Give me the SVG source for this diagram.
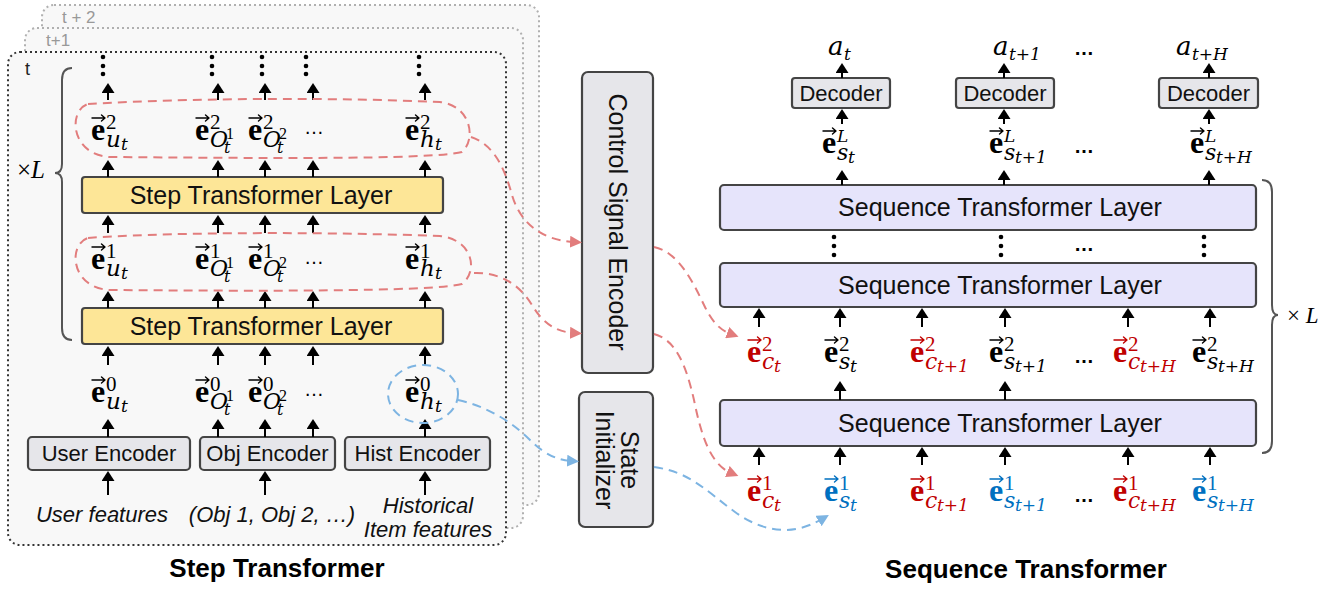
<svg xmlns="http://www.w3.org/2000/svg" width="1337" height="590" viewBox="0 0 1337 590">
<style>
.sans{font-family:"Liberation Sans",Arial,sans-serif}
.lt{font-family:"Liberation Sans",Arial,sans-serif;font-size:25px;text-anchor:middle;fill:#111}
.enc{font-family:"Liberation Sans",Arial,sans-serif;font-size:22px;text-anchor:middle;fill:#111}
.inp{font-family:"Liberation Sans",Arial,sans-serif;font-size:22px;font-style:italic;text-anchor:middle;fill:#111}
.ttl{font-family:"Liberation Sans",Arial,sans-serif;font-size:26px;font-weight:700;text-anchor:middle;fill:#000}
.eb{font-family:"Liberation Serif",serif;font-weight:700;font-size:32px}
.sp{font-family:"Liberation Serif",serif;font-size:21px;font-weight:400}
.sp2{font-family:"Liberation Serif",serif;font-size:16px;font-weight:400}
.spi{font-family:"DejaVu Serif",serif;font-style:italic;font-size:17px;font-weight:400}
.sb{font-family:"DejaVu Serif",serif;font-style:italic;font-size:22px;font-weight:400}
.sbl{font-family:"DejaVu Serif",serif;font-style:italic;font-size:23px;font-weight:400}
.sbo{font-family:"DejaVu Serif",serif;font-style:italic;font-size:22px;font-weight:400}
.ss{font-family:"DejaVu Serif",serif;font-style:italic;font-size:17px;font-weight:400}
.ss2{font-family:"DejaVu Serif",serif;font-style:italic;font-size:16px;font-weight:400}
.av{font-family:"DejaVu Serif",serif;font-style:italic;font-size:26px}
.el{font-family:"Liberation Sans",Arial,sans-serif;font-size:20px;text-anchor:middle}
.elb{font-family:"Liberation Sans",Arial,sans-serif;font-size:20px;font-weight:700;text-anchor:middle}
.frame{stroke-dasharray:2 3;stroke-width:2;fill:#f8f8f8}
.box{stroke:#444;stroke-width:2.2}
.step{fill:#fde697}
.seq{fill:#e6e4fb}
.gray{fill:#e6e6ea}
.ar{stroke:#000;stroke-width:2;marker-end:url(#ah)}
.rd{fill:none;stroke:#e27d7d;stroke-width:2;stroke-dasharray:9 6}
.bd{fill:none;stroke:#7db4e2;stroke-width:2;stroke-dasharray:9 6}
.br{fill:none;stroke:#555;stroke-width:2}
.vecp{fill:none;stroke:currentColor;stroke-width:1.4;stroke-linecap:round;stroke-linejoin:round}
.red{fill:#c00000;color:#c00000}
.blue{fill:#0070c0;color:#0070c0}
.blk{fill:#000;color:#000}
</style>
<defs>
<marker id="ah" viewBox="0 0 10 13" refX="4" refY="6.5" markerWidth="10" markerHeight="13" markerUnits="userSpaceOnUse" orient="auto"><path d="M0,0 L10,6.5 L0,13 Z" fill="#000"/></marker>
<marker id="ahr" viewBox="0 0 12 12" refX="4" refY="6" markerWidth="12" markerHeight="12" markerUnits="userSpaceOnUse" orient="auto"><path d="M0,0 L12,6 L0,12 Z" fill="#e27d7d"/></marker>
<marker id="ahb" viewBox="0 0 12 12" refX="4" refY="6" markerWidth="12" markerHeight="12" markerUnits="userSpaceOnUse" orient="auto"><path d="M0,0 L12,6 L0,12 Z" fill="#7db4e2"/></marker>
<path id="vec" class="vecp" d="M1,-22 H14 M10.5,-25 L14,-22 L10.5,-19"/>
</defs>
<rect width="1337" height="590" fill="#fff"/>

<g id="frames">
<rect class="frame" x="42" y="5" width="497" height="500" rx="12" stroke="#b0b0b0"/>
<text class="sans" x="62" y="23" font-size="17" fill="#999">t + 2</text>
<rect class="frame" x="25" y="28" width="498" height="500" rx="12" stroke="#b0b0b0"/>
<text class="sans" x="46" y="46" font-size="17" fill="#999">t+1</text>
<rect class="frame" x="8" y="52" width="498" height="493" rx="12" stroke="#333"/>
<text class="sans" x="25" y="75" font-size="18" fill="#222">t</text>
</g>

<g id="left-brace">
<path class="br" d="M72,68 Q62,68 62,80 L62,164 Q62,173 55,173 Q62,173 62,182 L62,328 Q62,340 72,340"/>
<text x="17" y="178" font-family="Liberation Serif,serif" font-size="25">×<tspan font-style="italic">L</tspan></text>
</g>

<g id="step-layer-2">
<rect class="box step" x="82" y="177" width="361" height="36" rx="3"/>
<text class="lt" x="261" y="204">Step Transformer Layer</text>
</g>
<g id="step-layer-1">
<rect class="box step" x="82" y="308" width="361" height="36" rx="3"/>
<text class="lt" x="261" y="335">Step Transformer Layer</text>
</g>

<g id="user-encoder">
<rect class="box gray" x="28" y="437" width="162" height="33" rx="4"/>
<text class="enc" x="109" y="461">User Encoder</text>
</g>
<g id="obj-encoder">
<rect class="box gray" x="200" y="437" width="135" height="33" rx="4"/>
<text class="enc" x="267.5" y="461">Obj Encoder</text>
</g>
<g id="hist-encoder">
<rect class="box gray" x="345" y="437" width="145" height="33" rx="4"/>
<text class="enc" x="417.5" y="461">Hist Encoder</text>
</g>

<g id="inputs">
<text class="inp" x="102" y="522">User features</text>
<text class="inp" x="272" y="522">(Obj 1, Obj 2, …)</text>
<text class="inp" x="428" y="513">Historical</text>
<text class="inp" x="428" y="537">Item features</text>
</g>

<!-- left embeddings row 2 -->
<g id="e2-u" class="blk" transform="translate(91,140)"><use href="#vec"/><text class="eb"><tspan x="0" y="0">e</tspan><tspan class="sp" x="15" y="-11">2</tspan><tspan class="sbl" x="15" y="7">u</tspan><tspan class="ss" x="30" y="10">t</tspan></text></g>
<g id="e2-o1" class="blk" transform="translate(195,140)"><use href="#vec"/><text class="eb"><tspan x="0" y="0">e</tspan><tspan class="sp" x="15" y="-11">2</tspan><tspan class="sbo" x="15" y="7">O</tspan><tspan class="sp2" x="31" y="-1">1</tspan><tspan class="ss2" x="29" y="13">t</tspan></text></g>
<g id="e2-o2" class="blk" transform="translate(248,140)"><use href="#vec"/><text class="eb"><tspan x="0" y="0">e</tspan><tspan class="sp" x="15" y="-11">2</tspan><tspan class="sbo" x="15" y="7">O</tspan><tspan class="sp2" x="31" y="-1">2</tspan><tspan class="ss2" x="29" y="13">t</tspan></text></g>
<text class="el" x="314" y="134">…</text>
<g id="e2-h" class="blk" transform="translate(405,140)"><use href="#vec"/><text class="eb"><tspan x="0" y="0">e</tspan><tspan class="sp" x="15" y="-11">2</tspan><tspan class="sbl" x="15" y="7">h</tspan><tspan class="ss" x="30" y="10">t</tspan></text></g>

<!-- left embeddings row 1 -->
<g id="e1-u" class="blk" transform="translate(91,269)"><use href="#vec"/><text class="eb"><tspan x="0" y="0">e</tspan><tspan class="sp" x="15" y="-11">1</tspan><tspan class="sbl" x="15" y="7">u</tspan><tspan class="ss" x="30" y="10">t</tspan></text></g>
<g id="e1-o1" class="blk" transform="translate(195,269)"><use href="#vec"/><text class="eb"><tspan x="0" y="0">e</tspan><tspan class="sp" x="15" y="-11">1</tspan><tspan class="sbo" x="15" y="7">O</tspan><tspan class="sp2" x="31" y="-1">1</tspan><tspan class="ss2" x="29" y="13">t</tspan></text></g>
<g id="e1-o2" class="blk" transform="translate(248,269)"><use href="#vec"/><text class="eb"><tspan x="0" y="0">e</tspan><tspan class="sp" x="15" y="-11">1</tspan><tspan class="sbo" x="15" y="7">O</tspan><tspan class="sp2" x="31" y="-1">2</tspan><tspan class="ss2" x="29" y="13">t</tspan></text></g>
<text class="el" x="314" y="264">…</text>
<g id="e1-h" class="blk" transform="translate(405,269)"><use href="#vec"/><text class="eb"><tspan x="0" y="0">e</tspan><tspan class="sp" x="15" y="-11">1</tspan><tspan class="sbl" x="15" y="7">h</tspan><tspan class="ss" x="30" y="10">t</tspan></text></g>

<!-- left embeddings row 0 -->
<g id="e0-u" class="blk" transform="translate(91,402)"><use href="#vec"/><text class="eb"><tspan x="0" y="0">e</tspan><tspan class="sp" x="15" y="-11">0</tspan><tspan class="sbl" x="15" y="7">u</tspan><tspan class="ss" x="30" y="10">t</tspan></text></g>
<g id="e0-o1" class="blk" transform="translate(195,402)"><use href="#vec"/><text class="eb"><tspan x="0" y="0">e</tspan><tspan class="sp" x="15" y="-11">0</tspan><tspan class="sbo" x="15" y="7">O</tspan><tspan class="sp2" x="31" y="-1">1</tspan><tspan class="ss2" x="29" y="13">t</tspan></text></g>
<g id="e0-o2" class="blk" transform="translate(248,402)"><use href="#vec"/><text class="eb"><tspan x="0" y="0">e</tspan><tspan class="sp" x="15" y="-11">0</tspan><tspan class="sbo" x="15" y="7">O</tspan><tspan class="sp2" x="31" y="-1">2</tspan><tspan class="ss2" x="29" y="13">t</tspan></text></g>
<text class="el" x="314" y="396">…</text>
<g id="e0-h" class="blk" transform="translate(405,402)"><use href="#vec"/><text class="eb"><tspan x="0" y="0">e</tspan><tspan class="sp" x="15" y="-11">0</tspan><tspan class="sbl" x="15" y="7">h</tspan><tspan class="ss" x="30" y="10">t</tspan></text></g>

<g id="control-signal-encoder">
<rect class="box gray" x="582" y="72" width="71" height="301" rx="6"/>
<text class="lt" transform="translate(609,222) rotate(90)">Control Signal Encoder</text>
</g>
<g id="state-initializer">
<rect class="box gray" x="579" y="392" width="74" height="135" rx="6"/>
<text class="lt" transform="rotate(90,610,460)"><tspan x="610" y="449">State</tspan><tspan x="610" y="474">Initializer</tspan></text>
</g>

<g id="seq-layer-top">
<rect class="box seq" x="720" y="185" width="536" height="45" rx="4"/>
<text class="lt" x="1000" y="216">Sequence Transformer Layer</text>
</g>
<g id="seq-layer-mid">
<rect class="box seq" x="720" y="263" width="536" height="44" rx="4"/>
<text class="lt" x="1000" y="294">Sequence Transformer Layer</text>
</g>
<g id="seq-layer-bot">
<rect class="box seq" x="720" y="400" width="536" height="46" rx="4"/>
<text class="lt" x="1000" y="432">Sequence Transformer Layer</text>
</g>

<g id="decoder-1"><rect class="box gray" x="792" y="78" width="98" height="30" rx="3"/><text class="enc" x="841" y="101" font-size="21.5">Decoder</text></g>
<g id="decoder-2"><rect class="box gray" x="956" y="78" width="98" height="30" rx="3"/><text class="enc" x="1005" y="101" font-size="21.5">Decoder</text></g>
<g id="decoder-3"><rect class="box gray" x="1159" y="78" width="99" height="30" rx="3"/><text class="enc" x="1208.5" y="101" font-size="21.5">Decoder</text></g>

<g id="a-t"><text class="av" transform="translate(828,55)">a<tspan class="ss" x="16" y="5" font-size="18">t</tspan></text></g>
<g id="a-t1"><text class="av" transform="translate(993,55)">a<tspan class="ss" x="16" y="5" font-size="18">t+1</tspan></text></g>
<text class="elb" x="1084" y="55">…</text>
<g id="a-tH"><text class="av" transform="translate(1176,55)">a<tspan class="ss" x="16" y="5" font-size="18">t+H</tspan></text></g>

<!-- eL row -->
<g id="eL-s-t" class="blk" transform="translate(822,153)"><use href="#vec"/><text class="eb"><tspan x="0" y="0">e</tspan><tspan class="spi" x="15" y="-11">L</tspan><tspan class="sb" x="15" y="7">s</tspan><tspan class="ss" x="26" y="10">t</tspan></text></g>
<g id="eL-s-t1" class="blk" transform="translate(989,153)"><use href="#vec"/><text class="eb"><tspan x="0" y="0">e</tspan><tspan class="spi" x="15" y="-11">L</tspan><tspan class="sb" x="15" y="7">s</tspan><tspan class="ss" x="26" y="10">t+1</tspan></text></g>
<text class="elb" x="1084" y="153">…</text>
<g id="eL-s-tH" class="blk" transform="translate(1190,153)"><use href="#vec"/><text class="eb"><tspan x="0" y="0">e</tspan><tspan class="spi" x="15" y="-11">L</tspan><tspan class="sb" x="15" y="7">s</tspan><tspan class="ss" x="26" y="10">t+H</tspan></text></g>

<!-- e2 row right -->
<g id="e2-c-t" class="red" transform="translate(747,362)"><use href="#vec"/><text class="eb"><tspan x="0" y="0">e</tspan><tspan class="sp" x="15" y="-11">2</tspan><tspan class="sb" x="15" y="7">c</tspan><tspan class="ss" x="27" y="10">t</tspan></text></g>
<g id="e2-s-t" class="blk" transform="translate(824,362)"><use href="#vec"/><text class="eb"><tspan x="0" y="0">e</tspan><tspan class="sp" x="15" y="-11">2</tspan><tspan class="sb" x="15" y="7">s</tspan><tspan class="ss" x="26" y="10">t</tspan></text></g>
<g id="e2-c-t1" class="red" transform="translate(910,362)"><use href="#vec"/><text class="eb"><tspan x="0" y="0">e</tspan><tspan class="sp" x="15" y="-11">2</tspan><tspan class="sb" x="15" y="7">c</tspan><tspan class="ss" x="27" y="10">t+1</tspan></text></g>
<g id="e2-s-t1" class="blk" transform="translate(989,362)"><use href="#vec"/><text class="eb"><tspan x="0" y="0">e</tspan><tspan class="sp" x="15" y="-11">2</tspan><tspan class="sb" x="15" y="7">s</tspan><tspan class="ss" x="26" y="10">t+1</tspan></text></g>
<text class="elb" x="1084" y="363">…</text>
<g id="e2-c-tH" class="red" transform="translate(1113,362)"><use href="#vec"/><text class="eb"><tspan x="0" y="0">e</tspan><tspan class="sp" x="15" y="-11">2</tspan><tspan class="sb" x="15" y="7">c</tspan><tspan class="ss" x="27" y="10">t+H</tspan></text></g>
<g id="e2-s-tH" class="blk" transform="translate(1192,362)"><use href="#vec"/><text class="eb"><tspan x="0" y="0">e</tspan><tspan class="sp" x="15" y="-11">2</tspan><tspan class="sb" x="15" y="7">s</tspan><tspan class="ss" x="26" y="10">t+H</tspan></text></g>

<!-- e1 row right -->
<g id="e1-c-t" class="red" transform="translate(747,501)"><use href="#vec"/><text class="eb"><tspan x="0" y="0">e</tspan><tspan class="sp" x="15" y="-11">1</tspan><tspan class="sb" x="15" y="7">c</tspan><tspan class="ss" x="27" y="10">t</tspan></text></g>
<g id="e1-s-t" class="blue" transform="translate(824,501)"><use href="#vec"/><text class="eb"><tspan x="0" y="0">e</tspan><tspan class="sp" x="15" y="-11">1</tspan><tspan class="sb" x="15" y="7">s</tspan><tspan class="ss" x="26" y="10">t</tspan></text></g>
<g id="e1-c-t1" class="red" transform="translate(910,501)"><use href="#vec"/><text class="eb"><tspan x="0" y="0">e</tspan><tspan class="sp" x="15" y="-11">1</tspan><tspan class="sb" x="15" y="7">c</tspan><tspan class="ss" x="27" y="10">t+1</tspan></text></g>
<g id="e1-s-t1" class="blue" transform="translate(989,501)"><use href="#vec"/><text class="eb"><tspan x="0" y="0">e</tspan><tspan class="sp" x="15" y="-11">1</tspan><tspan class="sb" x="15" y="7">s</tspan><tspan class="ss" x="26" y="10">t+1</tspan></text></g>
<text class="elb" x="1084" y="502">…</text>
<g id="e1-c-tH" class="red" transform="translate(1113,501)"><use href="#vec"/><text class="eb"><tspan x="0" y="0">e</tspan><tspan class="sp" x="15" y="-11">1</tspan><tspan class="sb" x="15" y="7">c</tspan><tspan class="ss" x="27" y="10">t+H</tspan></text></g>
<g id="e1-s-tH" class="blue" transform="translate(1192,501)"><use href="#vec"/><text class="eb"><tspan x="0" y="0">e</tspan><tspan class="sp" x="15" y="-11">1</tspan><tspan class="sb" x="15" y="7">s</tspan><tspan class="ss" x="26" y="10">t+H</tspan></text></g>

<g id="right-brace">
<path class="br" d="M1262,180 Q1272,180 1272,192 L1272,305 Q1272,315 1278,315 Q1272,315 1272,325 L1272,441 Q1272,453 1262,453"/>
<text x="1287" y="323" font-family="Liberation Serif,serif" font-size="23">× <tspan font-style="italic">L</tspan></text>
</g>

<text class="ttl" x="277" y="577">Step Transformer</text>
<text class="ttl" x="1026" y="578" font-size="26.5">Sequence Transformer</text>

<g id="connectors">
<g fill="#000">
<circle cx="103" cy="57" r="2.3"/><circle cx="103" cy="66" r="2.3"/><circle cx="103" cy="74" r="2.3"/>
<circle cx="212" cy="57" r="2.3"/><circle cx="212" cy="66" r="2.3"/><circle cx="212" cy="74" r="2.3"/>
<circle cx="262" cy="57" r="2.3"/><circle cx="262" cy="66" r="2.3"/><circle cx="262" cy="74" r="2.3"/>
<circle cx="306" cy="57" r="2.3"/><circle cx="306" cy="66" r="2.3"/><circle cx="306" cy="74" r="2.3"/>
<circle cx="419" cy="57" r="2.3"/><circle cx="419" cy="66" r="2.3"/><circle cx="419" cy="74" r="2.3"/>
<circle cx="834" cy="237" r="2.3"/><circle cx="834" cy="246" r="2.3"/><circle cx="834" cy="255" r="2.3"/>
<circle cx="1001" cy="237" r="2.3"/><circle cx="1001" cy="246" r="2.3"/><circle cx="1001" cy="255" r="2.3"/>
<circle cx="1204" cy="237" r="2.3"/><circle cx="1204" cy="246" r="2.3"/><circle cx="1204" cy="255" r="2.3"/>
</g>
<text class="elb" x="1084" y="251">…</text>
<g>
<line class="ar" x1="108" y1="100" x2="108" y2="89"/><line class="ar" x1="218" y1="100" x2="218" y2="89"/><line class="ar" x1="265" y1="100" x2="265" y2="89"/><line class="ar" x1="313" y1="100" x2="313" y2="89"/><line class="ar" x1="425" y1="100" x2="425" y2="89"/>
<line class="ar" x1="108" y1="177" x2="108" y2="166"/><line class="ar" x1="218" y1="177" x2="218" y2="166"/><line class="ar" x1="265" y1="177" x2="265" y2="166"/><line class="ar" x1="313" y1="177" x2="313" y2="166"/><line class="ar" x1="425" y1="177" x2="425" y2="166"/>
<line class="ar" x1="108" y1="233" x2="108" y2="221"/><line class="ar" x1="218" y1="233" x2="218" y2="221"/><line class="ar" x1="265" y1="233" x2="265" y2="221"/><line class="ar" x1="313" y1="233" x2="313" y2="221"/><line class="ar" x1="425" y1="233" x2="425" y2="221"/>
<line class="ar" x1="108" y1="308" x2="108" y2="297"/><line class="ar" x1="218" y1="308" x2="218" y2="297"/><line class="ar" x1="265" y1="308" x2="265" y2="297"/><line class="ar" x1="313" y1="308" x2="313" y2="297"/><line class="ar" x1="425" y1="308" x2="425" y2="297"/>
<line class="ar" x1="108" y1="365" x2="108" y2="352"/><line class="ar" x1="218" y1="365" x2="218" y2="352"/><line class="ar" x1="265" y1="365" x2="265" y2="352"/><line class="ar" x1="313" y1="365" x2="313" y2="352"/><line class="ar" x1="425" y1="365" x2="425" y2="352"/>
<line class="ar" x1="108" y1="437" x2="108" y2="425"/><line class="ar" x1="218" y1="437" x2="218" y2="425"/><line class="ar" x1="265" y1="437" x2="265" y2="425"/><line class="ar" x1="313" y1="437" x2="313" y2="425"/><line class="ar" x1="425" y1="437" x2="425" y2="425"/>
<line class="ar" x1="108" y1="495" x2="108" y2="477"/><line class="ar" x1="265" y1="495" x2="265" y2="477"/><line class="ar" x1="425" y1="495" x2="425" y2="477"/>
</g>
<g>
<line class="ar" x1="842" y1="78" x2="842" y2="69"/><line class="ar" x1="1004" y1="78" x2="1004" y2="69"/><line class="ar" x1="1209" y1="78" x2="1209" y2="69"/>
<line class="ar" x1="842" y1="124" x2="842" y2="115"/><line class="ar" x1="1004" y1="124" x2="1004" y2="115"/><line class="ar" x1="1209" y1="124" x2="1209" y2="115"/>
<line class="ar" x1="842" y1="185" x2="842" y2="176"/><line class="ar" x1="1004" y1="185" x2="1004" y2="176"/><line class="ar" x1="1209" y1="185" x2="1209" y2="176"/>
<line class="ar" x1="759" y1="327" x2="759" y2="314"/><line class="ar" x1="840" y1="327" x2="840" y2="314"/><line class="ar" x1="922" y1="327" x2="922" y2="314"/><line class="ar" x1="1005" y1="327" x2="1005" y2="314"/><line class="ar" x1="1128" y1="327" x2="1128" y2="314"/><line class="ar" x1="1210" y1="327" x2="1210" y2="314"/>
<line class="ar" x1="840" y1="400" x2="840" y2="387"/><line class="ar" x1="1005" y1="400" x2="1005" y2="387"/>
<line class="ar" x1="759" y1="465" x2="759" y2="453"/><line class="ar" x1="840" y1="465" x2="840" y2="453"/><line class="ar" x1="922" y1="465" x2="922" y2="453"/><line class="ar" x1="1005" y1="465" x2="1005" y2="453"/><line class="ar" x1="1128" y1="465" x2="1128" y2="453"/><line class="ar" x1="1210" y1="465" x2="1210" y2="453"/>
</g>
<path class="rd" d="M88,104 C150,100 300,96 440,102 C472,106 476,140 462,152 C430,160 250,158 110,157 C70,155 68,110 88,104 Z"/>
<path class="rd" d="M88,238 C150,233 300,231 440,236 C474,240 478,272 462,284 C430,292 250,291 110,290 C70,288 68,244 88,238 Z"/>
<ellipse class="bd" cx="423" cy="394" rx="35" ry="29"/>
<path class="rd" marker-end="url(#ahr)" d="M471,137 C495,145 505,170 512,195 C520,222 540,240 574,242"/>
<path class="rd" marker-end="url(#ahr)" d="M474,273 C500,272 520,285 532,305 C542,322 555,332 574,333"/>
<path class="rd" marker-end="url(#ahr)" d="M654,247 C678,252 692,280 704,305 C712,322 720,330 731,334"/>
<path class="rd" marker-end="url(#ahr)" d="M654,334 C676,340 686,365 694,400 C702,440 712,465 731,473"/>
<path class="bd" marker-end="url(#ahb)" d="M458,400 C485,406 510,420 530,440 C545,455 558,460 571,461"/>
<path class="bd" marker-end="url(#ahb)" d="M654,467 C690,472 705,490 735,512 C760,530 790,538 822,519"/>
</g>
</svg>
